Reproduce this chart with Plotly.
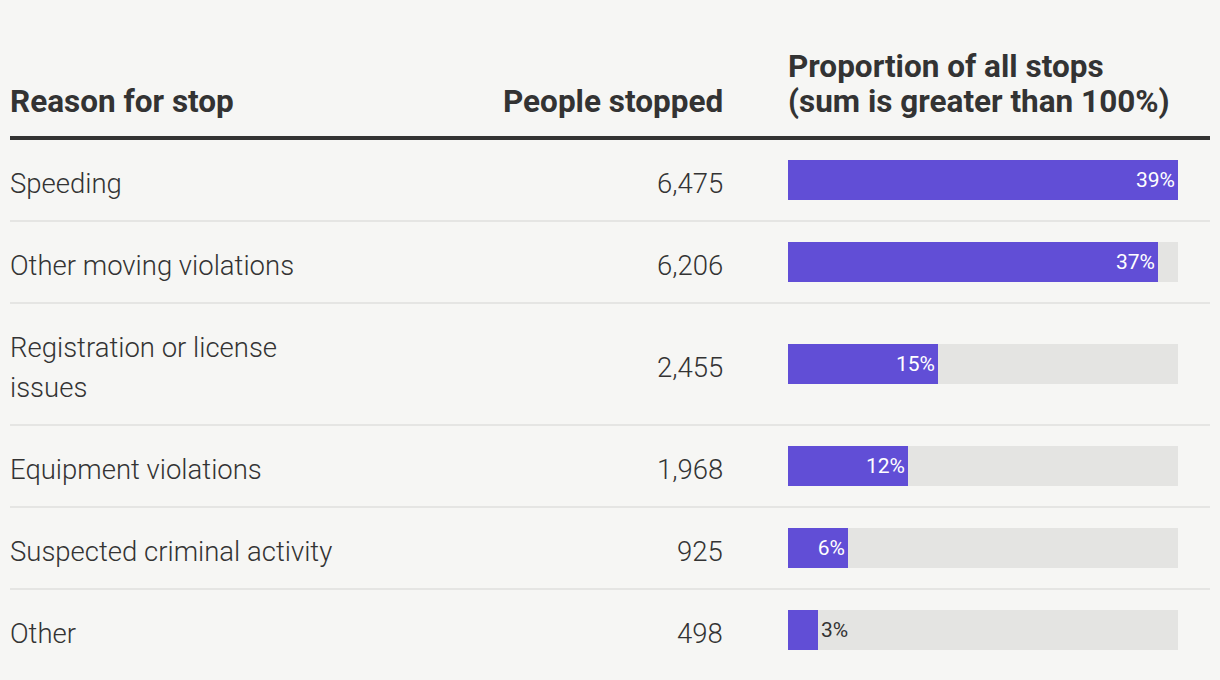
import plotly.graph_objects as go

# ---- data ----
reasons = ["Speeding", "Other moving violations", "Registration or license<br>issues",
           "Equipment violations", "Suspected criminal activity", "Other"]
people_stopped = [6475, 6206, 2455, 1968, 925, 498]
proportion = [39, 37, 15, 12, 6, 3]
header_reason = "Reason for stop"
header_people = "People stopped"
header_prop = "Proportion of all stops<br>(sum is greater than 100%)"

# ---- style ----
W, H = 1220, 680
BG = "#f6f6f4"
INK = "#333333"
BAR = "#614ed6"
TRACK = "#e4e4e2"
SEP = "#e5e5e3"
FONT = "Roboto"
HEADER_Y = 139          # px from top where header rule sits
ROW_BASE, LINE_H = 42, 40
HEAD_LINE_H = 35
BAR_X0, BAR_X1 = 788, 1178
NUM_RIGHT = 722
LEFT, RIGHT = 10, 1210
BODY_SIZE = 27.5
HEAD_SIZE = 31.5

# row geometry (y units = px below header rule)
heights = [ROW_BASE + LINE_H * (r.count("<br>") + 1) for r in reasons]
tops, centers = [], []
acc = 0
for h in heights:
    tops.append(acc)
    centers.append(acc + h / 2)
    acc += h

maxv = max(proportion)
px_per_unit = (BAR_X1 - BAR_X0) / maxv

fig = go.Figure()
fig.add_trace(go.Bar(
    x=[maxv] * len(proportion), y=centers, orientation="h", width=40,
    marker=dict(color=TRACK, line=dict(width=0)), hoverinfo="skip", showlegend=False))

positions = ["inside" if v * px_per_unit > 45 else "outside" for v in proportion]
fig.add_trace(go.Bar(
    x=proportion, y=centers, orientation="h", width=40,
    marker=dict(color=BAR, line=dict(width=0)),
    text=[f"{v}%" for v in proportion], textposition=positions,
    insidetextanchor="end",
    insidetextfont=dict(family=FONT, size=21, color="white"),
    outsidetextfont=dict(family=FONT, size=21, color=INK),
    cliponaxis=False, showlegend=False))

fig.update_layout(
    width=W, height=H, margin=dict(l=0, r=0, t=0, b=0),
    paper_bgcolor=BG, plot_bgcolor=BG, barmode="overlay",
    font=dict(family=FONT, color=INK),
    xaxis=dict(domain=[BAR_X0 / W, BAR_X1 / W], range=[0, maxv], visible=False, fixedrange=True),
    yaxis=dict(domain=[0, 1], range=[H - HEADER_Y, -HEADER_Y], visible=False, fixedrange=True),
)

shapes = [dict(type="line", xref="paper", yref="y", x0=LEFT / W, x1=RIGHT / W, y0=-1, y1=-1,
               line=dict(color=INK, width=4))]
for t in tops[1:]:
    shapes.append(dict(type="line", xref="paper", yref="y", x0=LEFT / W, x1=RIGHT / W,
                       y0=t, y1=t, line=dict(color=SEP, width=2), layer="below"))
fig.update_layout(shapes=shapes)

ann = []
hy = 101 - HEADER_Y
head_font = dict(family=FONT, size=HEAD_SIZE, color=INK, weight=700)
body_font = dict(family=FONT, size=BODY_SIZE, color=INK, weight=300)


def add_text(text, x, y, anchor, font, line_h, shift):
    lines = text.split("<br>")
    n = len(lines)
    for i, ln in enumerate(lines):
        ann.append(dict(text=ln, x=x / W, xref="paper", y=y + (i - (n - 1) / 2) * line_h,
                        yref="y", xanchor=anchor, yanchor="middle", showarrow=False,
                        font=font, xshift=(-2 if anchor == "left" else 3), yshift=shift))


add_text(header_reason, LEFT, hy, "left", head_font, HEAD_LINE_H, 0)
add_text(header_people, NUM_RIGHT, hy, "right", head_font, HEAD_LINE_H, 0)
add_text(header_prop, BAR_X0, hy - HEAD_LINE_H / 2, "left", head_font, HEAD_LINE_H, 0)
for r, n, c in zip(reasons, people_stopped, centers):
    add_text(r, LEFT, c, "left", body_font, LINE_H, -3)
    add_text(f"{n:,}", NUM_RIGHT, c, "right", body_font, LINE_H, -3)
fig.update_layout(annotations=ann)

fig.write_html("out.html", config=dict(displayModeBar=False),
               post_script="document.body.style.margin='0';document.body.style.background='#f6f6f4';")
